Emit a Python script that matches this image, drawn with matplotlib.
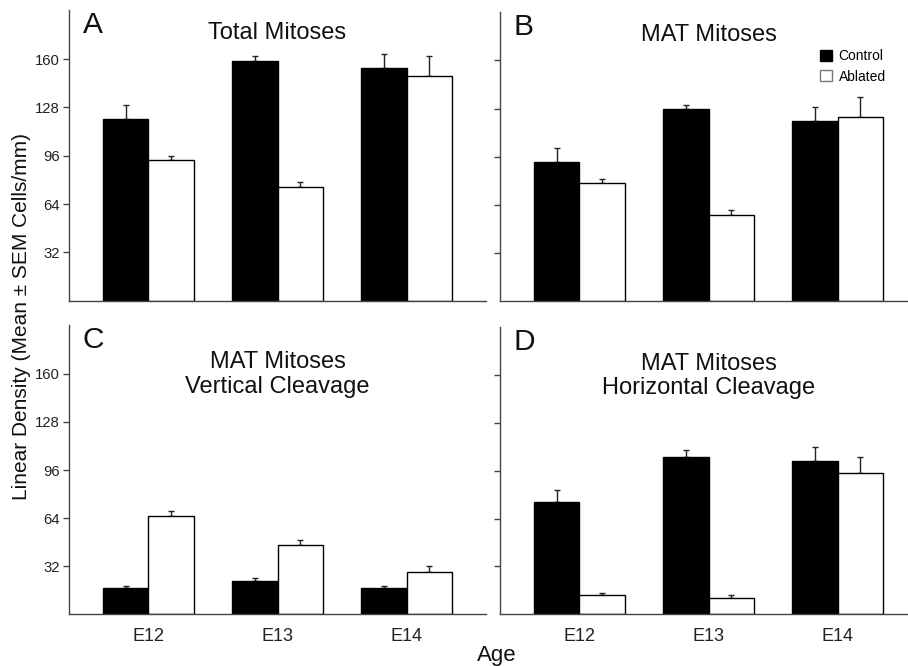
import numpy as np
import matplotlib
matplotlib.use("Agg")
import matplotlib.pyplot as plt
from matplotlib.patches import Patch

plt.rcParams['font.family'] = ['Liberation Sans', 'DejaVu Sans']

# data
ages = ['E12', 'E13', 'E14']

total_ctrl = [120.5, 158.9, 153.9]
total_ctrl_sem = [9.3, 2.9, 9.7]
total_abl = [92.9, 75.3, 149.0]
total_abl_sem = [3.1, 3.1, 12.8]

mat_ctrl = [92.7, 127.4, 119.5]
mat_ctrl_sem = [9.3, 3.1, 9.6]
mat_abl = [78.1, 57.4, 122.5]
mat_abl_sem = [3.1, 3.3, 12.9]

vert_ctrl = [17.8, 22.2, 17.8]
vert_ctrl_sem = [1.3, 1.8, 1.3]
vert_abl = [65.5, 46.2, 28.4]
vert_abl_sem = [3.1, 3.1, 3.6]

horiz_ctrl = [75.0, 105.6, 102.3]
horiz_ctrl_sem = [8.0, 4.4, 9.7]
horiz_abl = [12.7, 10.9, 94.3]
horiz_abl_sem = [1.3, 1.8, 11.3]

yticks = [32, 64, 96, 128, 160]

W, H = 908, 666
fig = plt.figure(figsize=(W / 100, H / 100), dpi=100)


def px_axes(left, top, right, bottom):
    return fig.add_axes([left / W, 1 - bottom / H, (right - left) / W, (bottom - top) / H])


panels = [
    # letter, title, ctrl, ctrl_sem, abl, abl_sem, box (l, t, r, b), y labels, x labels
    ('A', 'Total Mitoses', total_ctrl, total_ctrl_sem, total_abl, total_abl_sem,
     (69, 10, 486, 300.7), True, False),
    ('B', 'MAT Mitoses', mat_ctrl, mat_ctrl_sem, mat_abl, mat_abl_sem,
     (500, 11.7, 917, 300.7), False, False),
    ('C', 'MAT Mitoses\nVertical Cleavage', vert_ctrl, vert_ctrl_sem, vert_abl, vert_abl_sem,
     (69, 325, 486, 614.3), True, True),
    ('D', 'MAT Mitoses\nHorizontal Cleavage', horiz_ctrl, horiz_ctrl_sem, horiz_abl, horiz_abl_sem,
     (500, 326.7, 917, 614.3), False, True),
]

x = np.arange(len(ages))
w = 0.35
spine_col = '#444444'

for letter, title, c, cs, a, as_, box, ylab, xlab in panels:
    ax = px_axes(*box)
    hgt = box[3] - box[1]
    ax.bar(x - w / 2, c, w, color='black', edgecolor='black', linewidth=1.0, zorder=2)
    ax.bar(x + w / 2, a, w, color='white', edgecolor='black', linewidth=1.0, zorder=2)
    ax.errorbar(x - w / 2, c, yerr=[np.zeros(3), cs], fmt='none', ecolor='#222222',
                elinewidth=1.0, capsize=2, capthick=1.0, zorder=1)
    ax.errorbar(x + w / 2, a, yerr=[np.zeros(3), as_], fmt='none', ecolor='#222222',
                elinewidth=1.0, capsize=2, capthick=1.0, zorder=1)

    ax.set_xlim(-0.614, 2.614)
    ax.set_ylim(0, 192.5)
    ax.set_yticks(yticks)
    ax.set_xticks(x)
    for s in ['top', 'right']:
        ax.spines[s].set_visible(False)
    for s in ['left', 'bottom']:
        ax.spines[s].set_color(spine_col)
        ax.spines[s].set_linewidth(1.0)
    ax.tick_params(axis='y', length=4.5, width=1.0, color=spine_col, pad=2)
    ax.tick_params(axis='x', length=0, pad=10)
    if ylab:
        ax.set_yticklabels([str(t) for t in yticks])
        for lab in ax.get_yticklabels():
            lab.set_fontfamily(['Liberation Sans Narrow', 'Liberation Sans'])
            lab.set_fontsize(10.7)
            lab.set_color('#222222')
    else:
        ax.set_yticklabels([])
    if xlab:
        ax.set_xticklabels(ages, fontsize=13, color='#222222')
    else:
        ax.set_xticklabels([])

    ax.text(14 / 417, 1 - 23 / hgt, letter, transform=ax.transAxes,
            fontsize=21.5, va='baseline', ha='left', color='#111111')
    if '\n' in title:
        # baseline of the last line
        ax.text(0.5, 1 - 67.5 / hgt, title, transform=ax.transAxes, fontsize=17,
                ha='center', va='baseline', linespacing=1.12, color='#111111')
    else:
        ax.text(0.5, 1 - 29 / hgt, title, transform=ax.transAxes, fontsize=17,
                ha='center', va='baseline', color='#111111')

    if letter == 'B':
        handles = [Patch(facecolor='black', edgecolor='black', label='Control'),
                   Patch(facecolor='white', edgecolor='#777777', label='Ablated')]
        ax.legend(handles=handles, loc='upper left', bbox_to_anchor=(0.767, 0.87),
                  frameon=False, fontsize=10, handlelength=0.85, handleheight=0.85,
                  handletextpad=0.5, labelspacing=0.45, borderpad=0, borderaxespad=0)

fig.text(22 / W, 1 - 316.5 / H, 'Linear Density (Mean \u00b1 SEM Cells/mm)',
         rotation=90, ha='center', va='center', fontsize=15, color='#111111')
fig.text(497 / W, 1 - 661.5 / H, 'Age', ha='center', va='baseline', fontsize=16,
         color='#111111')

fig.savefig('out.png', dpi=100)
